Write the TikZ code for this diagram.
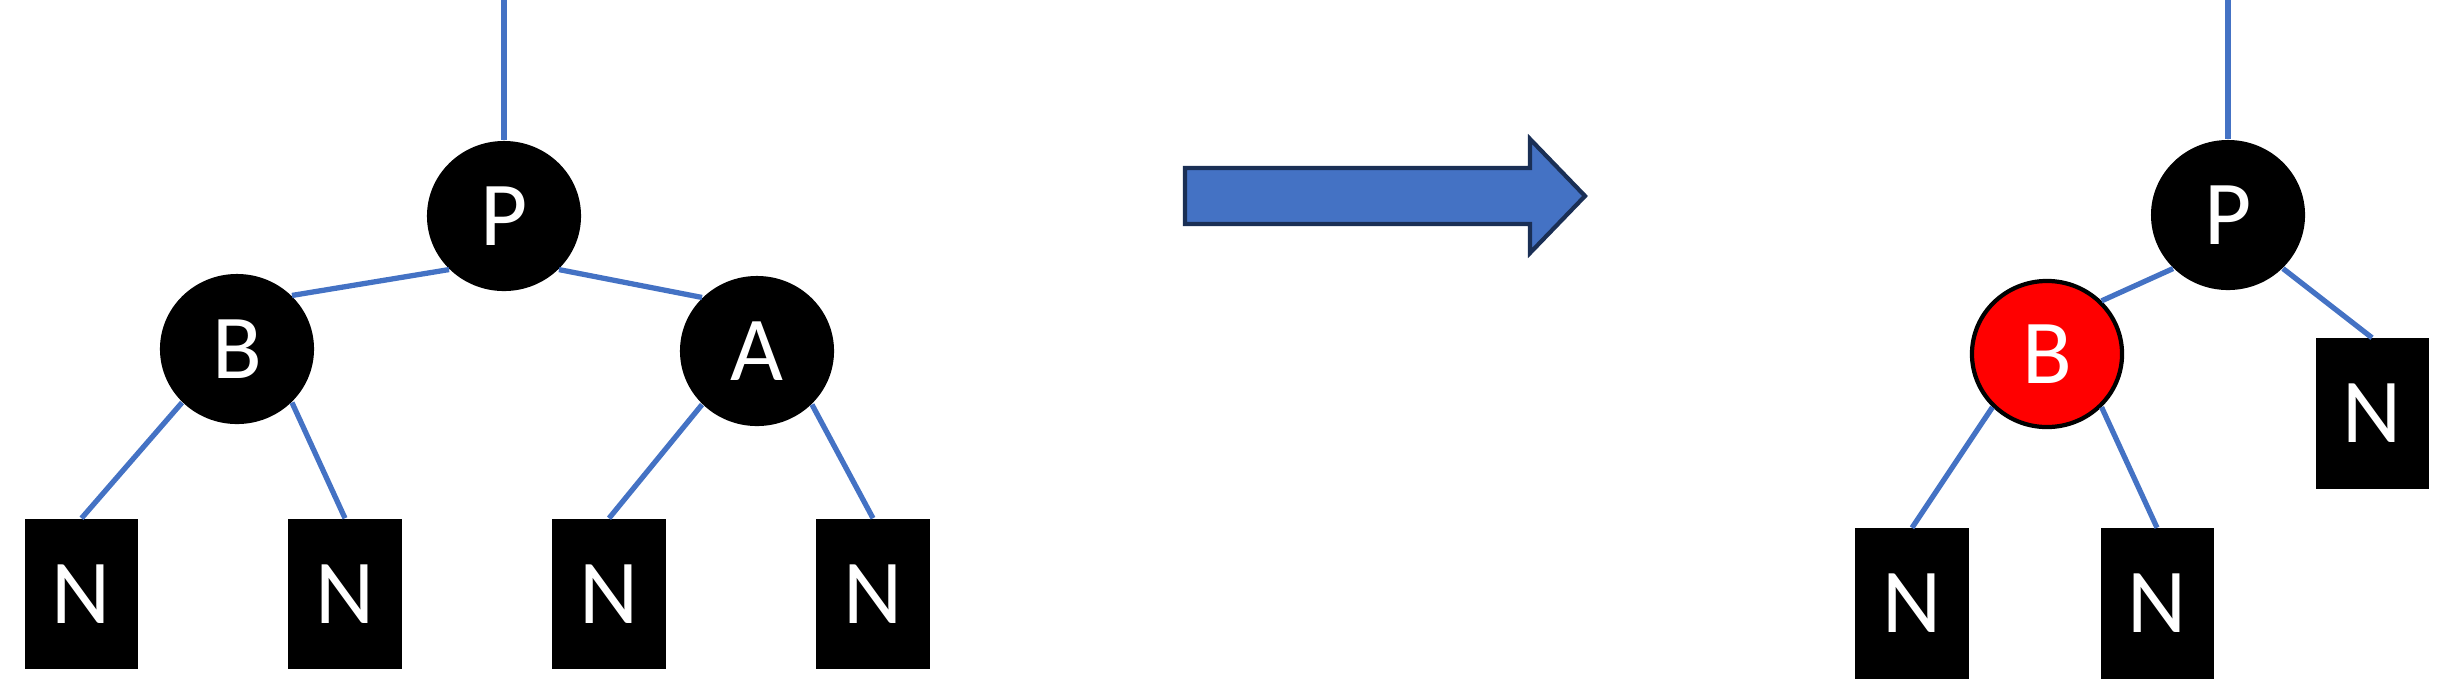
\documentclass[tikz,border=0pt]{standalone}
\usepackage{fontspec}
\setmainfont{Carlito}
\usetikzlibrary{shapes.geometric}
\definecolor{edgeblue}{HTML}{4472C4}
\definecolor{navy}{HTML}{1A2F55}
\definecolor{rbred}{HTML}{FF0000}
\tikzset{
  lettertext/.style={text=white, font=\fontsize{26}{30}\selectfont},
  blacknode/.style={ellipse, fill=black, draw=none, inner sep=0pt, minimum width=1.54cm, minimum height=1.50cm, lettertext},
  rednode/.style={ellipse, fill=rbred, draw=black, line width=1.2pt, inner sep=0pt, minimum width=1.50cm, minimum height=1.46cm, lettertext},
  nilbox/.style={rectangle, fill=black, draw=none, inner sep=0pt, minimum width=1.13cm, minimum height=1.50cm, lettertext},
  edge/.style={draw=edgeblue, line width=1.5pt},
  bigarrow/.style={fill=edgeblue, draw=navy, line width=1.2pt, line join=miter}
}
\begin{document}
\begin{tikzpicture}[x=0.01cm, y=-0.01cm]
\useasboundingbox (0,0) rectangle (2446,696);
% left tree
\coordinate (topL) at (504,0);
\node[blacknode] (P1) at (504,216) {P};
\node[blacknode] (B1) at (237,349) {B};
\node[blacknode] (A1) at (757,351) {A};
\node[nilbox] (N1) at (81.5,594) {N};
\node[nilbox] (N2) at (345,594) {N};
\node[nilbox] (N3) at (609,594) {N};
\node[nilbox] (N4) at (873,594) {N};
\draw[edge] (topL) -- (P1.north);
\draw[edge] (P1.south west) -- (B1.north east);
\draw[edge] (P1.south east) -- (A1.north west);
\draw[edge] (B1.south west) -- (N1.north);
\draw[edge] (B1.south east) -- (N2.north);
\draw[edge] (A1.south west) -- (N3.north);
\draw[edge] (A1.south east) -- (N4.north);
% arrow
\draw[bigarrow] (1185,168) -- (1530,168) -- (1530,139) -- (1585,196) -- (1530,253) -- (1530,224) -- (1185,224) -- cycle;
% right tree
\coordinate (topR) at (2228,0);
\node[blacknode] (P2) at (2228,215) {P};
\node[rednode] (B2) at (2047,354) {B};
\node[nilbox] (NR) at (2372,413.5) {N};
\node[nilbox] (NBL) at (1912,603.5) {N};
\node[nilbox] (NBM) at (2157,603.5) {N};
\draw[edge] (topR) -- (P2.north);
\draw[edge] (P2.south west) -- (B2.north east);
\draw[edge] (P2.south east) -- (NR.north);
\draw[edge] (B2.south west) -- (NBL.north);
\draw[edge] (B2.south east) -- (NBM.north);
\end{tikzpicture}
\end{document}
